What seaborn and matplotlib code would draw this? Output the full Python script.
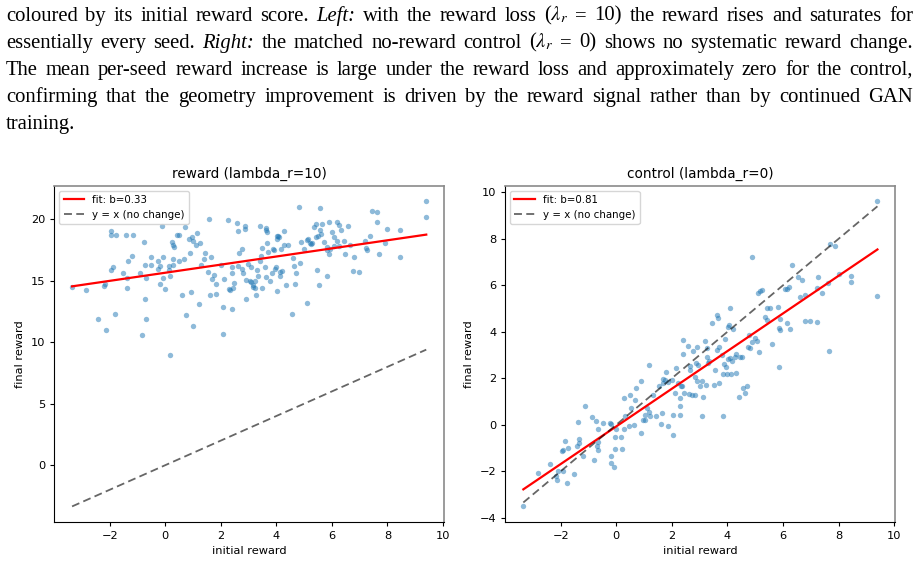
import numpy as np
import matplotlib
matplotlib.use("Agg")
import matplotlib.pyplot as plt
from matplotlib.transforms import IdentityTransform
import seaborn as sns

# ---------------- data ----------------
reward_initial = [
    -3.36, -2.84, -2.42, -2.12, -2.20, -2.18, -1.94, -1.94, -1.76, -1.80, -1.97, -1.88, -1.54, -1.42, -1.16,
    -1.39, -1.39, -1.35, -1.21, -0.90, -0.83, -0.77, -0.72, -0.72, -0.69, -0.68, -0.51, -0.50, -0.25, -0.25,
    -0.20, -0.19, -0.08, -0.11, -0.08, 0.00, 0.14, 0.14, 0.17, 0.17, 0.24, 0.26, 0.28, 0.29, 0.32, 0.43, 0.48,
    0.51, 0.61, 0.67, 0.71, 0.75, 0.86, 0.91, 0.97, 0.98, 0.90, 1.01, 1.13, 1.11, 1.20, 1.26, 1.27, 1.40, 1.42,
    1.52, 1.59, 1.60, 1.63, 1.68, 1.76, 1.82, 1.83, 2.01, 2.07, 2.09, 2.12, 2.25, 2.31, 2.32, 2.39, 2.39, 2.41,
    2.43, 2.48, 2.59, 2.61, 2.62, 2.66, 2.76, 2.79, 2.76, 2.87, 2.88, 2.90, 2.91, 2.99, 3.04, 3.09, 3.10, 3.15,
    3.15, 3.24, 3.24, 3.27, 3.29, 3.34, 3.41, 3.41, 3.45, 3.47, 3.49, 3.59, 3.63, 3.63, 3.64, 3.66, 3.65, 3.69,
    3.78, 3.83, 3.87, 3.93, 3.95, 3.97, 4.01, 4.01, 4.02, 4.06, 4.09, 4.14, 4.14, 4.18, 4.21, 4.26, 4.28, 4.36,
    4.43, 4.58, 4.59, 4.62, 4.67, 4.72, 4.82, 4.86, 4.88, 5.01, 5.09, 5.12, 5.15, 5.22, 5.24, 5.30, 5.37, 5.41,
    5.43, 5.48, 5.51, 5.52, 5.57, 5.59, 5.61, 5.63, 5.72, 5.84, 5.84, 5.84, 5.89, 5.89, 5.94, 6.01, 6.07, 6.09,
    6.18, 6.20, 6.24, 6.25, 6.32, 6.44, 6.49, 6.59, 6.64, 6.77, 6.78, 6.97, 7.18, 7.22, 7.25, 7.38, 7.43, 7.61,
    7.64, 7.71, 7.90, 8.00, 8.44, 8.45, 9.40, 9.40,
]
reward_final = [
    14.53, 14.29, 11.88, 10.96, 14.61, 14.75, 19.05, 18.73, 18.73, 12.34, 15.88, 16.09, 15.67, 18.70, 18.70,
    15.21, 14.40, 16.61, 17.02, 15.67, 10.58, 18.16, 16.29, 13.50, 11.88, 15.26, 16.96, 16.29, 16.64, 15.94,
    14.75, 16.21, 16.96, 19.45, 15.21, 14.37, 15.88, 16.21, 15.40, 8.96, 18.16, 17.89, 16.29, 16.80, 17.72,
    18.70, 18.73, 16.64, 13.88, 16.80, 19.37, 12.18, 18.37, 14.07, 18.54, 18.24, 17.29, 11.34, 18.89, 17.91,
    13.10, 18.05, 16.26, 16.80, 17.29, 15.75, 20.02, 13.85, 16.96, 15.13, 15.45, 13.90, 14.72, 16.29, 12.88,
    10.66, 15.18, 19.99, 14.31, 14.26, 15.61, 12.72, 16.10, 14.42, 14.80, 19.67, 19.08, 16.21, 17.29, 17.56,
    15.61, 15.99, 19.45, 19.24, 15.04, 13.50, 16.37, 15.02, 14.94, 16.13, 14.64, 14.48, 15.02, 14.40, 13.85,
    15.88, 15.37, 19.45, 16.61, 17.05, 14.42, 17.70, 16.10, 19.13, 15.32, 19.27, 19.00, 18.10, 17.37, 15.02,
    15.61, 17.56, 17.51, 15.96, 16.10, 18.40, 14.21, 18.62, 18.62, 18.59, 15.40, 15.75, 17.56, 15.83, 19.05,
    17.91, 14.64, 17.94, 12.29, 16.83, 16.21, 14.72, 15.64, 21.02, 16.45, 18.18, 17.59, 13.18, 18.32, 18.40,
    18.10, 18.02, 18.05, 19.35, 19.62, 18.56, 15.86, 18.64, 14.64, 20.89, 19.16, 18.83, 19.62, 18.13, 17.51,
    15.43, 17.75, 19.78, 17.16, 17.56, 18.94, 18.56, 17.86, 18.21, 19.75, 19.51, 17.83, 19.10, 18.24, 17.18,
    19.49, 17.89, 15.80, 16.96, 15.75, 18.21, 17.64, 17.51, 18.67, 20.67, 19.78, 20.59, 17.21, 18.10, 19.21,
    16.91, 19.16, 21.50, 20.17,
]

control_initial = [
    -3.34, -2.81, -2.38, -2.14, -2.17, -2.09, -1.93, -1.78, -1.52, -1.96, -1.91, -1.84, -1.73, -1.40, -1.35,
    -1.34, -1.20, -1.37, -1.13, -0.87, -0.74, -0.67, -0.80, -0.68, -0.66, -0.64, -0.18, -0.17, -0.09, -0.03,
    0.20,
    -0.47, -0.23, -0.17, 0.00, -0.06, 0.18, 0.27, 0.30, 0.47, 0.53, 0.51, 0.27, 0.63, 0.67, 0.73, 0.89, 0.91,
    0.95, 1.03, 1.03, 1.11, 1.17, 1.19, 1.23, 1.31, 1.44, 1.54, 1.61, 1.65, 1.67, 1.68, 1.74, 1.81, 1.87, 1.85,
    2.00, 2.05, 2.06, 2.11, 2.15, 2.21, 2.28, 2.30, 2.30, 2.33, 2.36, 2.40, 2.41, 2.45, 2.60, 2.61, 2.64, 2.66,
    2.73, 2.76, 2.82, 2.83, 2.86, 2.90, 2.92, 2.95, 3.02, 3.08, 3.09, 3.11, 3.19, 3.23, 3.26, 3.28, 3.32, 3.35,
    3.44, 3.53, 3.56, 3.62, 3.62, 3.68, 3.69, 3.70, 3.81, 3.84, 3.85, 3.89, 3.91, 3.95, 3.97, 4.01, 4.03, 4.07,
    4.08, 4.10, 4.13, 4.15, 4.21, 4.27, 4.30, 4.31, 4.43, 4.46, 4.51, 4.57, 4.65, 4.69, 4.75, 4.79, 4.83, 4.87,
    5.00, 5.05, 5.09, 5.17, 5.24, 5.14, 5.37, 5.41,
    9.40, 7.71, 7.88, 4.90, 6.32, 6.54, 6.68, 7.26, 8.01, 8.45, 8.45, 9.40, 6.08, 6.14, 6.22, 6.60, 6.80, 7.22,
    7.40, 7.61, 5.82, 5.44, 5.55, 5.88, 6.13, 5.85, 5.88, 6.24, 5.62, 6.78, 6.98, 7.21, 7.66, 5.85,
]
control_final = [
    -3.51, -2.09, -1.69, -2.36, -2.19, -1.97, -1.97, -2.50, -2.12, -1.12, -1.10, -0.70, -0.99, -0.93, -0.76,
    -0.59, -1.32, 0.14, 0.80, 0.33, 0.18, -0.16, -1.50, -0.93, -1.10, -0.72, -1.32, -1.66, -1.83, -1.02,
    -1.02,
    0.10, 0.10, 0.04, -0.17, -0.53, -0.53, -0.17, 0.36, -0.07, 0.72, 1.30, 1.14, 0.00, 1.07, 1.57, 1.90, -0.36,
    0.21, 0.19, 0.43, 0.74, 0.57, 2.58, 0.39, 1.29, 0.36, 1.65, 0.03, 0.53, 1.82, 1.96, 1.93, 2.27, -0.04, 1.86,
    1.93, -0.44, 0.44, 1.36, 2.43, 1.82, 0.79, 0.44, 1.14, 1.65, 1.69, 3.65, 3.05, 1.36, 3.39, 1.33, 2.36, 2.53,
    1.29, 3.19, 1.29, 2.07, 2.65, 1.90, 3.36, 2.58, 1.67, 1.89, 0.36, 1.19, 3.62, 1.72, 3.29, 2.93, 2.68, 2.76,
    4.39, 1.72, 2.36, 3.20, 4.72, 4.58, 1.79, 3.36, 2.99, 0.39, 2.19, 2.63, 3.68, 2.47, 2.19, 2.82, 4.22, 4.29,
    5.01, 2.86, 2.19, 2.76, 4.11, 2.93, 2.25, 3.05, 1.19, 2.93, 2.90, 1.57, 1.36, 1.65, 3.36, 3.86, 3.29, 3.58,
    3.72, 3.61, 5.69, 5.77, 5.79, 3.15, 4.65, 4.51,
    9.63, 7.80, 7.70, 7.24, 6.87, 6.37, 6.22, 6.34, 6.51, 6.41, 6.15, 5.54, 5.84, 5.84, 5.91, 5.48, 5.58, 5.87,
    5.65, 6.08, 5.08, 5.04, 5.04, 4.54, 4.39, 4.18, 4.08, 4.12, 3.48, 4.46, 4.48, 4.43, 3.16, 2.48,
]

panel_titles = ["reward (lambda_r=10)", "control (lambda_r=0)"]
fit_slopes = [0.33, 0.81]
fit_intercepts = [15.66, -0.07]
x_label = "initial reward"
y_label = "final reward"
identity_label = "y = x (no change)"

caption_lines = [
    [("coloured", "normal"), ("by", "normal"), ("its", "normal"), ("initial", "normal"), ("reward", "normal"),
     ("score.", "normal"), ("Left:", "italic"), ("with", "normal"), ("the", "normal"), ("reward", "normal"),
     ("loss", "normal"), (r"($\lambda_r$", "normal"), ("=", "normal"), ("10)", "normal"), ("the", "normal"),
     ("reward", "normal"), ("rises", "normal"), ("and", "normal"), ("saturates", "normal"), ("for", "normal")],
    [("essentially", "normal"), ("every", "normal"), ("seed.", "normal"), ("Right:", "italic"), ("the", "normal"),
     ("matched", "normal"), ("no-reward", "normal"), ("control", "normal"), (r"($\lambda_r$", "normal"),
     ("=", "normal"), ("0)", "normal"), ("shows", "normal"), ("no", "normal"), ("systematic", "normal"),
     ("reward", "normal"), ("change.", "normal")],
    [(w, "normal") for w in "The mean per-seed reward increase is large under the reward loss and approximately zero for the control,".split()],
    [(w, "normal") for w in "confirming that the geometry improvement is driven by the reward signal rather than by continued GAN".split()],
    [("training.", "normal")],
]

# ---------------- style ----------------
S = 0.82
plt.rcParams.update({
    "font.size": 10 * S,
    "axes.titlesize": 12 * S,
    "axes.labelsize": 10 * S,
    "xtick.labelsize": 10 * S,
    "ytick.labelsize": 10 * S,
    "legend.fontsize": 9 * S,
    "axes.linewidth": 0.8,
    "xtick.major.size": 3.5 * S,
    "ytick.major.size": 3.5 * S,
    "mathtext.fontset": "stix",
})

W, H = 919, 562
fig = plt.figure(figsize=(W / 100, H / 100), dpi=100)

ax_pos = [
    [54.3 / W, 1 - 521.7 / H, 390.0 / W, 336.0 / H],
    [505.0 / W, 1 - 521.7 / H, 390.5 / W, 336.0 / H],
]
datasets = [(reward_initial, reward_final), (control_initial, control_final)]

for i in range(2):
    ax = fig.add_axes(ax_pos[i])
    xi = np.asarray(datasets[i][0])
    yf = np.asarray(datasets[i][1])
    sns.scatterplot(x=xi, y=yf, ax=ax, s=15, alpha=0.5, color="tab:blue",
                    linewidth=0, legend=False)
    xs = np.array([xi.min(), xi.max()])
    ax.plot(xs, fit_slopes[i] * xs + fit_intercepts[i], color="red", lw=1.6,
            label=f"fit: b={fit_slopes[i]:.2f}")
    ax.plot(xs, xs, ls=(0, (4.4, 2.4)), color="k", alpha=0.6, lw=1.3, label=identity_label)
    ax.set_title(panel_titles[i])
    ax.set_xlabel(x_label)
    ax.set_ylabel(y_label)
    ax.set_xlim(-4.0, 10.05)
    ax.set_xticks([-2, 0, 2, 4, 6, 8, 10])
    for side in ("top", "right"):
        ax.spines[side].set_color("#8a8a8a")
        ax.spines[side].set_linewidth(1.2)
    ax.legend(loc="upper left")

# ---------------- justified caption ----------------
fig.canvas.draw()
renderer = fig.canvas.get_renderer()
cap_fs = 14.9
x_left, x_right = 6.0, 913.0
baselines = [20.7, 47.7, 75.0, 101.7, 128.5]
for li, words in enumerate(caption_lines):
    texts = []
    for w, st in words:
        t = fig.text(0, 0, w, fontsize=cap_fs, family=["Liberation Serif", "DejaVu Serif"],
                     style=st, transform=IdentityTransform(), ha="left", va="baseline",
                     color="black")
        texts.append(t)
    widths = [t.get_window_extent(renderer).width for t in texts]
    if li < len(caption_lines) - 1 and len(texts) > 1:
        gap = (x_right - x_left - sum(widths)) / (len(texts) - 1)
    else:
        gap = cap_fs * 100 / 72 * 0.25
    x = x_left
    for t, wd in zip(texts, widths):
        t.set_position((x, H - baselines[li]))
        x += wd + gap

fig.savefig("out.png", dpi=100)
